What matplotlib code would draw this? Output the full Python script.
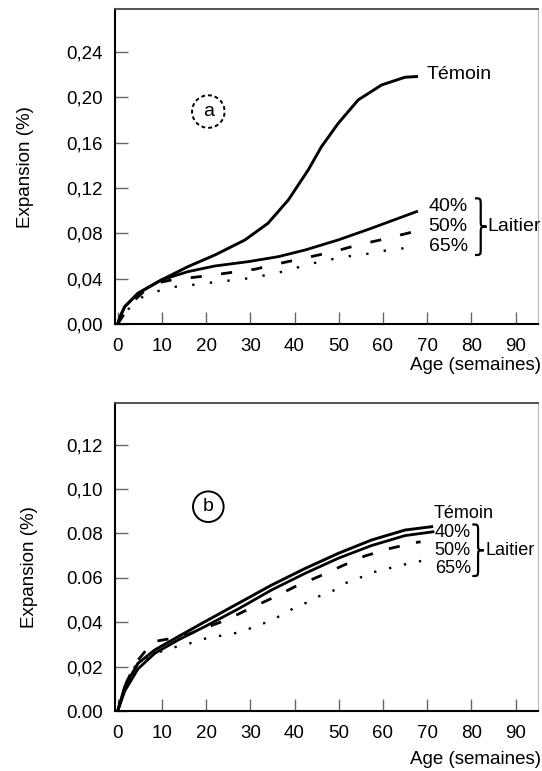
import matplotlib
matplotlib.use("Agg")
import matplotlib.pyplot as plt
from matplotlib.path import Path
from matplotlib.patches import PathPatch

plt.rcParams['font.family'] = ['Liberation Sans', 'DejaVu Sans']

# ---- panel a : valeurs ----
a_temoin_x = [0, 0.5, 1.6, 4.6, 9.9, 15.9, 22, 28.8, 34, 38.6, 43.1, 46.1, 49.9, 54.4, 59.7, 65, 67.6]
a_temoin_y = [0, 0.006, 0.0153, 0.0271, 0.0389, 0.0506, 0.0609, 0.0742, 0.0889, 0.1095, 0.136, 0.1566,
              0.1772, 0.1978, 0.211, 0.2178, 0.2184]
a_40_x = [0, 0.5, 1.6, 4.6, 9.9, 15.9, 22, 29.5, 36.3, 42.4, 49.9, 57.4, 67.6]
a_40_y = [0, 0.006, 0.0153, 0.0271, 0.0389, 0.0462, 0.0512, 0.055, 0.0594, 0.0653, 0.0742, 0.0845, 0.0992]
a_50_x = [0, 3, 6, 9.9, 12.2, 18.6, 24.3, 31, 37.4, 43.1, 48.8, 54.4, 60.1, 66.5]
a_50_y = [0, 0.018, 0.029, 0.037, 0.0389, 0.0418, 0.0447, 0.0483, 0.0541, 0.0589, 0.0638, 0.0698, 0.0748, 0.081]
a_65_x = [0, 3, 6, 9.9, 13.3, 16.7, 19.7, 23.1, 26.5, 29.5, 32.6, 35.6, 39, 42.4, 48.4, 51.4, 54.8,
          58.2, 61.2, 64.6, 67]
a_65_y = [0, 0.016, 0.025, 0.030, 0.033, 0.0344, 0.0359, 0.0374, 0.0389, 0.0403, 0.0424, 0.0447, 0.0477,
          0.0521, 0.0571, 0.0594, 0.0609, 0.063, 0.0653, 0.0668, 0.069]

# ---- panel b ----
b_temoin_x = [0, 1.6, 4.6, 8.4, 13.7, 19.7, 27.3, 34.8, 42.4, 49.9, 57.4, 65, 71]
b_temoin_y = [0, 0.011, 0.0215, 0.0275, 0.0335, 0.0402, 0.0485, 0.0567, 0.0642, 0.071, 0.077, 0.0815, 0.083]
b_40_x = [0, 1.6, 4.6, 8.4, 13.7, 19.7, 27.3, 34.8, 42.4, 49.9, 57.4, 65, 71.3]
b_40_y = [0, 0.009, 0.019, 0.026, 0.032, 0.038, 0.046, 0.0545, 0.062, 0.0688, 0.0745, 0.079, 0.0807]
b_50_x = [0, 2, 4.3, 8, 14.5, 24.6, 29.9, 34.8, 40.1, 45.4, 50.7, 55.9, 61.6, 67.2, 68.5]
b_50_y = [0, 0.013, 0.0222, 0.0312, 0.0335, 0.041, 0.0462, 0.0507, 0.056, 0.0605, 0.0653, 0.0698,
          0.0732, 0.0758, 0.0762]
b_65_x = [0, 2, 3.9, 8, 11, 15.2, 18.6, 21.6, 24.6, 28, 31, 34, 37.1, 39.7, 42.7, 45.7, 49.1, 51.4,
          54.4, 57.4, 60.4, 63.5, 66.5, 69.9]
b_65_y = [0, 0.012, 0.020, 0.025, 0.028, 0.0297, 0.032, 0.0335, 0.0342, 0.0357, 0.038, 0.0402, 0.0432,
          0.0462, 0.0488, 0.0518, 0.0545, 0.0575, 0.0597, 0.0623, 0.0638, 0.0653, 0.0668, 0.068]

x_ticks = [0, 10, 20, 30, 40, 50, 60, 70, 80, 90]
a_yticks = [0.0, 0.04, 0.08, 0.12, 0.16, 0.20, 0.24]
a_ylabels = ["0,00", "0,04", "0,08", "0,12", "0,16", "0,20", "0,24"]
b_yticks = [0.0, 0.02, 0.04, 0.06, 0.08, 0.10, 0.12]
b_ylabels = ["0.00", "0,02", "0,04", "0.06", "0.08", "0,10", "0,12"]
pct_labels = ["40%", "50%", "65%"]


def accolade(ax, x0, y0, h, w, lw=1.6):
    # accolade "}" dessinee en coordonnees donnees
    xm = x0 + w / 2
    r = h * 0.25
    verts = [(x0, y0 + h), (xm, y0 + h), (xm, y0 + h), (xm, y0 + h - r),
             (xm, y0 + r),
             (xm, y0), (xm, y0), (x0 + w, y0),
             (xm, y0), (xm, y0), (xm, y0 - r),
             (xm, y0 - h + r),
             (xm, y0 - h), (xm, y0 - h), (x0, y0 - h)]
    codes = [Path.MOVETO, Path.CURVE4, Path.CURVE4, Path.CURVE4,
             Path.LINETO,
             Path.CURVE4, Path.CURVE4, Path.CURVE4,
             Path.CURVE4, Path.CURVE4, Path.CURVE4,
             Path.LINETO,
             Path.CURVE4, Path.CURVE4, Path.CURVE4]
    ax.add_patch(PathPatch(Path(verts, codes), fill=False, lw=lw, color='black', clip_on=False))


def habiller(ax, yticks, ylabels, ymax):
    ax.set_xlim(-0.6, 95)
    ax.set_ylim(0, ymax)
    ax.set_xticks(x_ticks)
    ax.set_yticks(yticks)
    ax.set_yticklabels(ylabels)
    ax.tick_params(direction='in', length=9, width=1, color='#666', labelsize=13.5, pad=9)
    ax.tick_params(axis='x', pad=10)
    for s in ['left', 'bottom']:
        ax.spines[s].set_linewidth(1.5)
    ax.spines['top'].set_linewidth(1.3)
    ax.spines['top'].set_color('#444')
    ax.spines['right'].set_linewidth(0.8)
    ax.spines['right'].set_color('#bbb')


fig = plt.figure(figsize=(5.42, 7.71), dpi=100)
ax1 = fig.add_axes([0.2122, 0.5798, 0.780, 0.4085])
ax2 = fig.add_axes([0.2122, 0.0778, 0.780, 0.3995])

# panel a
ax1.plot(a_temoin_x, a_temoin_y, color='black', lw=2.1)
ax1.plot(a_40_x, a_40_y, color='black', lw=2)
ax1.plot(a_50_x, a_50_y, color='black', lw=2, dashes=(4, 7))
ax1.plot(a_65_x, a_65_y, color='black', lw=1.7, dashes=(1, 6.5))
habiller(ax1, a_yticks, a_ylabels, 0.278)
ax1.text(69.9, 0.2199, "Témoin", fontsize=14, va='center')
for lab, yy in zip(pct_labels, [0.1036, 0.0859, 0.0683]):
    ax1.text(70.3, yy, lab, fontsize=14, va='center', clip_on=False)
accolade(ax1, 80.8, 0.0859, 0.025, 2.6)
ax1.text(83.6, 0.0859, "Laitier", fontsize=14, va='center', clip_on=False)
ax1.text(20.5, 0.1875, "a", fontsize=14, ha='center', va='center',
         bbox=dict(boxstyle='circle,pad=0.4', fc='none', ec='black', lw=1.4, ls=(0, (2, 1.5))))

# panel b
ax2.plot(b_temoin_x, b_temoin_y, color='black', lw=2.1)
ax2.plot(b_40_x, b_40_y, color='black', lw=2)
ax2.plot(b_50_x, b_50_y, color='black', lw=2, dashes=(4, 6))
ax2.plot(b_65_x, b_65_y, color='black', lw=1.7, dashes=(1, 5.5))
habiller(ax2, b_yticks, b_ylabels, 0.1387)
ax2.text(71.5, 0.089, "Témoin", fontsize=13, va='center')
for lab, yy in zip(pct_labels, [0.0805, 0.0725, 0.0642]):
    ax2.text(71.7, yy, lab, fontsize=13, va='center', clip_on=False)
accolade(ax2, 80.2, 0.0724, 0.0116, 2.6)
ax2.text(83.2, 0.0724, "Laitier", fontsize=13, va='center', clip_on=False)
ax2.text(20.5, 0.092, "b", fontsize=14, ha='center', va='center',
         bbox=dict(boxstyle='circle,pad=0.35', fc='none', ec='black', lw=1.4))

fig.text(25 / 542, 1 - 167 / 771, "Expansion (%)", rotation=90, fontsize=13.5, ha='center', va='center')
fig.text(30 / 542, 1 - 567 / 771, "Expansion (%)", rotation=90, fontsize=13.5, ha='center', va='center')
fig.text(541 / 542, 1 - 366 / 771, "Age (semaines)", fontsize=13.5, ha='right', va='center')
fig.text(541 / 542, 1 - 760 / 771, "Age (semaines)", fontsize=13.5, ha='right', va='center')

fig.savefig("out.png", dpi=100)
